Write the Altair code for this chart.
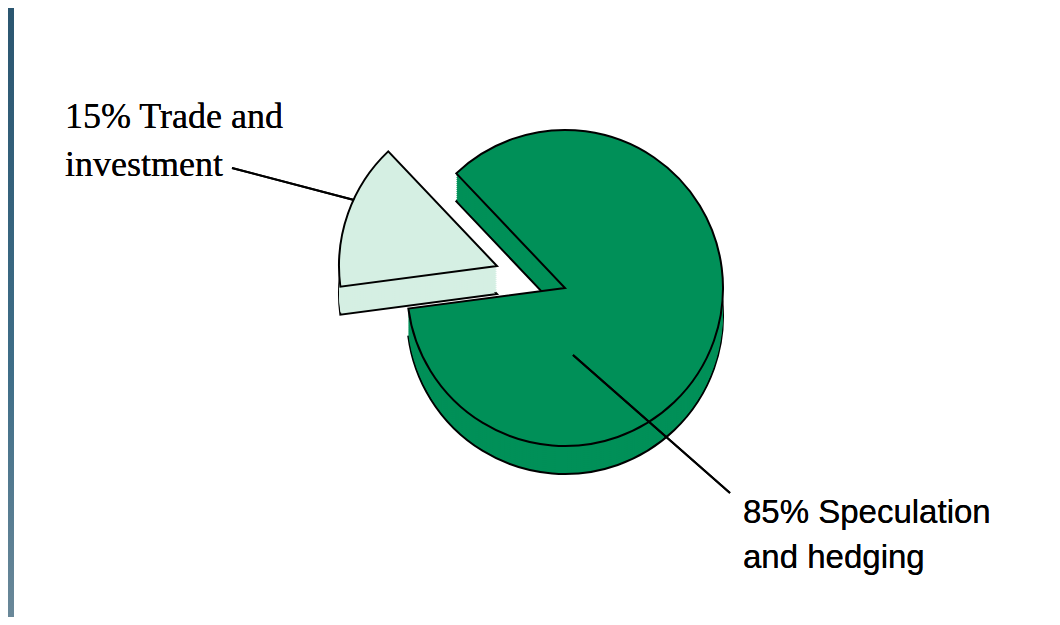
import math
import altair as alt
import pandas as pd

# ---- data ----
categories = ["Trade and investment", "Speculation and hedging"]
shares = [15, 85]
slice_order = [0, 1]
slice_colors = ["#d5efe3", "#009058"]
label_small = ["15% Trade and", "investment"]
label_large = ["85% Speculation", "and hedging"]

df = pd.DataFrame({"category": categories, "share": shares, "order": slice_order})

W, H = 1044, 609
CX, CY = 557, 280          # pie centre (chart coords)
R = 158                    # pie radius
DEPTH = 28                 # 3-D thickness
EXPLODE = {"Trade and investment": (-68, -22), "Speculation and hedging": (0, 0)}

start_deg = 262.5
theta_scale = alt.Scale(domain=[0, 100],
                        range=[math.radians(start_deg), math.radians(start_deg + 360)])
color_scale = alt.Scale(domain=categories, range=slice_colors)

base = (
    alt.Chart(df)
    .transform_window(cum="sum(share)", sort=[alt.SortField("order")])
    .transform_calculate(start="datum.cum - datum.share")
)


def slice_layer(cat, dy, stroke):
    dx, ddy = EXPLODE[cat]
    mark_kw = dict(radius=R)
    if stroke:
        mark_kw.update(stroke="black", strokeWidth=2, strokeJoin="miter")
    else:
        mark_kw.update(strokeWidth=0)
    return (
        base.transform_filter(alt.datum.category == cat)
        .mark_arc(**mark_kw)
        .encode(
            theta=alt.Theta("start:Q", scale=theta_scale),
            theta2="cum:Q",
            color=alt.Color("category:N", scale=color_scale, legend=None),
            x=alt.value(CX + dx),
            y=alt.value(CY + ddy + dy),
        )
    )


layers = []
# left blue strip of the slide background
layers.append(
    alt.Chart(df).mark_rect(
        fill=alt.LinearGradient(
            gradient="linear", x1=0, x2=0, y1=0, y2=1,
            stops=[alt.GradientStop(color="#2b5670", offset=0),
                   alt.GradientStop(color="#3f6e88", offset=0.6),
                   alt.GradientStop(color="#6a8899", offset=1)],
        )
    ).encode(x=alt.value(0), x2=alt.value(6), y=alt.value(0), y2=alt.value(H))
)

for cat in ["Speculation and hedging", "Trade and investment"]:
    layers.append(slice_layer(cat, DEPTH, True))
    for k in range(DEPTH - 2, 0, -2):
        layers.append(slice_layer(cat, k, False))
    layers.append(slice_layer(cat, 0, True))

# leader lines
layers.append(
    alt.Chart(df).mark_rule(color="black", strokeWidth=2).encode(
        x=alt.value(224), y=alt.value(160), x2=alt.value(346), y2=alt.value(192)
    )
)
layers.append(
    alt.Chart(df).mark_rule(color="black", strokeWidth=2).encode(
        x=alt.value(565), y=alt.value(347), x2=alt.value(722), y2=alt.value(485)
    )
)

# labels
layers.append(
    alt.Chart(df).mark_text(
        align="left", baseline="alphabetic", font="Liberation Serif",
        fontSize=36, lineHeight=48, color="black",
    ).encode(x=alt.value(57), y=alt.value(120), text=alt.value(label_small))
)
layers.append(
    alt.Chart(df).mark_text(
        align="left", baseline="alphabetic", font="Liberation Sans",
        fontSize=33, lineHeight=45, color="black",
    ).encode(x=alt.value(735), y=alt.value(515), text=alt.value(label_large))
)

chart = (
    alt.layer(*layers)
    .properties(width=W, height=H, padding=0, autosize="none", background="white")
    .configure_view(stroke=None)
)

chart.save("out.html", embed_options={"renderer": "svg", "actions": False})
